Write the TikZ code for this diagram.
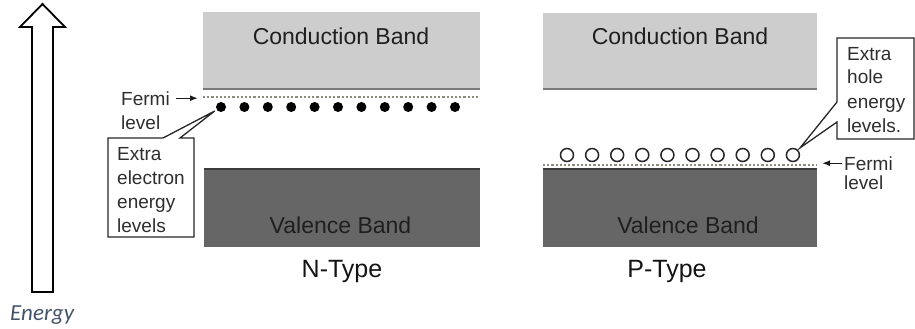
\documentclass[tikz,border=0pt]{standalone}
\usepackage{fontspec}
\setmainfont{Liberation Sans}
\newfontfamily\energyfont{Carlito}
\usetikzlibrary{arrows.meta,calc}

\definecolor{condgray}{HTML}{CDCDCD}
\definecolor{condedge}{HTML}{7A7A7A}
\definecolor{valgray}{HTML}{666666}
\definecolor{valedge}{HTML}{3C3C3C}
\definecolor{fermidot}{HTML}{8E8A7E}
\definecolor{energyblue}{HTML}{44546A}

\tikzset{
  bandlabel/.style={font=\fontsize{23}{27}\selectfont, text=black!88, inner sep=0pt, anchor=base},
  typelabel/.style={font=\fontsize{25}{30}\selectfont, text=black!92, inner sep=0pt, anchor=base},
  smalllabel/.style={font=\fontsize{19}{24}\selectfont, text=black!82, inner sep=0pt, anchor=base west},
  fermiline/.style={line width=2.6pt, dash pattern=on 2.2pt off 2pt, color=fermidot},
  electron/.style={circle, fill=black, minimum size=10pt, inner sep=0pt},
  hole/.style={circle, draw=black!85, line width=1.5pt, fill=white, minimum size=13pt, inner sep=0pt},
  callout/.style={draw=black!85, line width=1.3pt, fill=white, line join=miter},
  pointer/.style={-{Latex[length=8pt,width=6pt]}, line width=1.4pt, draw=black!90},
  energyarrow/.style={draw=black, line width=1.8pt, fill=white, line join=miter}
}

\begin{document}
\begin{tikzpicture}[x=1pt,y=-1pt]
\useasboundingbox (0,0) rectangle (915,329);

% energy axis
\draw[energyarrow] (32,292) -- (32,27) -- (20,27) -- (42.5,4) -- (65,27) -- (53,27) -- (53,292) -- cycle;
\node[font=\energyfont\itshape\fontsize{23}{27}\selectfont, text=energyblue, inner sep=0pt, anchor=base west] (energy) at (10,320) {Energy};

% ---------------- N-type ----------------
\fill[condgray] (203,12) rectangle (480,90);
\draw[condedge, line width=2pt] (203,89) -- (480,89);
\node[bandlabel] (ncond) at (341,45) {Conduction Band};

\fill[valgray] (204,168) rectangle (480,247);
\draw[valedge, line width=1.6pt] (204,168.8) -- (480,168.8);
\node[bandlabel] (nval) at (340.5,233) {Valence Band};

\node[typelabel] (ntype) at (342,277) {N-Type};

\coordinate (nfl) at (203,97);
\coordinate (nfr) at (480,97);
\draw[fermiline] (nfl) -- (nfr);

\foreach \i in {0,...,10}
  \node[electron] (e\i) at (221+23.4*\i,107) {};

\node[smalllabel] (nfermi) at (121,105) {Fermi};
\node[smalllabel] (nlevel) at (121,129) {level};
\draw[pointer, shorten <=6pt, shorten >=5pt] (nfermi.east) -- (nfermi.east -| nfl);

% callout for the donor levels
\draw[callout] (163,138) -- ($(e0.215)+(-2,1)$) -- (180,138) -- (194,138) -- (194,237) -- (108,237) -- (108,138) -- cycle;
\node[smalllabel] (nx1) at (117,160) {Extra};
\node[smalllabel] (nx2) at (117,184) {electron};
\node[smalllabel] (nx3) at (117,208) {energy};
\node[smalllabel] (nx4) at (117,232) {levels};

% ---------------- P-type ----------------
\fill[condgray] (543,13) rectangle (817,90);
\draw[condedge, line width=2pt] (543,89) -- (817,89);
\node[bandlabel] (pcond) at (680,45) {Conduction Band};

\fill[valgray] (543,168) rectangle (817,247);
\draw[valedge, line width=1.6pt] (543,168.8) -- (817,168.8);
\node[bandlabel] (pval) at (688,233) {Valence Band};

\node[typelabel] (ptype) at (667,277) {P-Type};

\coordinate (pfl) at (543,165);
\coordinate (pfr) at (817,165);
\draw[fermiline] (pfl) -- (pfr);

\foreach \i in {0,...,9}
  \node[hole] (h\i) at (567+25.1*\i,155) {};

\node[smalllabel] (pfermi) at (844,170) {Fermi};
\node[smalllabel] (plevel) at (844,189) {level};
\draw[pointer, shorten <=2pt, shorten >=5pt] (pfermi.west) -- (pfermi.west -| pfr);

% callout for the acceptor levels
\draw[callout] (837,102) -- ($(h9.45)+(2,-2)$) -- (837,122) -- (837,139) -- (914,139) -- (914,38) -- (837,38) -- cycle;
\node[smalllabel] (px1) at (847,60) {Extra};
\node[smalllabel] (px2) at (847,84) {hole};
\node[smalllabel] (px3) at (847,108) {energy};
\node[smalllabel] (px4) at (847,132) {levels.};
\end{tikzpicture}
\end{document}
